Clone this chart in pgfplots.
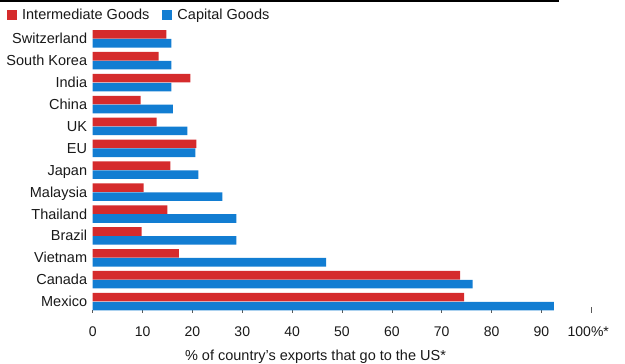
\documentclass[border=0pt]{standalone}
\usepackage{fontspec}
\setmainfont{Liberation Sans}
\usepackage{pgfplots}
\pgfplotsset{compat=1.18}
\definecolor{bred}{RGB}{213,43,44}
\definecolor{bblue}{RGB}{18,125,210}
\definecolor{txt}{RGB}{25,25,25}
\begin{document}
\begin{tikzpicture}
\path[use as bounding box] (0,0) rectangle (625pt,364pt);
\draw[line width=1.6pt] (0,363.2pt) -- (559pt,363.2pt);
\begin{axis}[
  at={(92.7pt,51.4pt)}, anchor=south west,
  scale only axis, width=498.6pt, height=284.7pt,
  xmin=0, xmax=100, ymin=-0.5, ymax=12.5,
  xbar, bar width=8.6pt,
  axis line style={draw=none},
  tick pos=left,
  ytick={0,...,12},
  yticklabels={Mexico,Canada,Vietnam,Brazil,Thailand,Malaysia,Japan,EU,UK,China,India,South Korea,Switzerland},
  ytick style={draw=none},
  yticklabel style={anchor=base east, inner sep=0pt, xshift=-5.4pt, yshift=-5pt, font=\fontsize{14.5}{17}\selectfont, text=txt},
  xtick={0,10,...,90},
  extra x ticks={100},
  extra x tick labels={100\%*},
  extra x tick style={tick style={gray!55, line width=1.2pt}, major tick length=6pt, xticklabel style={xshift=-3pt}},
  tick align=inside,
  major tick length=3pt,
  xtick style={gray!70!black, line width=0.6pt},
  xticklabel style={anchor=base, inner sep=0pt, yshift=-24.1pt, font=\fontsize{14}{16}\selectfont, text=txt},
  /pgf/number format/assume math mode=true,
  xlabel={\% of country’s exports that go to the US*},
  xlabel style={at={(axis description cs:0.4469,-0.169)}, anchor=base, inner sep=0pt, font=\fontsize{14.5}{17}\selectfont, text=txt},
  legend columns=2,
  legend style={at={(axis description cs:-0.172,1.0436)}, anchor=west, draw=none, fill=none, inner sep=0pt,
    column sep=5pt, /tikz/every even column/.append style={column sep=13pt},
    nodes={inner sep=0pt, font=\fontsize{14.5}{17}\selectfont, text=txt}},
  legend image code/.code={\fill[#1] (0pt,-5pt) rectangle (10pt,5pt);},
]
\addplot[fill=bred, draw=none, bar shift=4.45pt] coordinates {
(74.5,0) (73.7,1) (17.3,2) (9.8,3) (15.0,4) (10.2,5) (15.6,6) (20.8,7) (12.8,8) (9.6,9) (19.6,10) (13.2,11) (14.8,12)};
\addplot[fill=bblue, draw=none, bar shift=-4.45pt] coordinates {
(92.5,0) (76.2,1) (46.8,2) (28.8,3) (28.8,4) (26.0,5) (21.2,6) (20.6,7) (19.0,8) (16.1,9) (15.8,10) (15.8,11) (15.8,12)};
\legend{Intermediate Goods, Capital Goods}
\end{axis}
\end{tikzpicture}
\end{document}
